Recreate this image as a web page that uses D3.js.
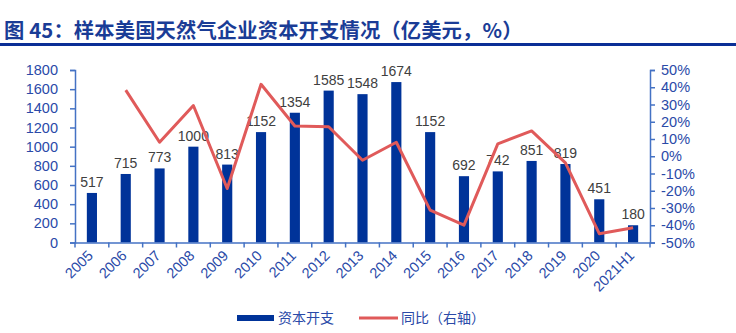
<!DOCTYPE html>
<html><head><meta charset="utf-8">
<script src="https://cdn.jsdelivr.net/npm/d3@7/dist/d3.min.js"></script>
<style>
body{margin:0;background:#fff;}
svg{display:block;}
</style></head>
<body>
<svg id="c" width="736" height="333"></svg>
<script>
const categories = ["2005","2006","2007","2008","2009","2010","2011","2012","2013","2014","2015","2016","2017","2018","2019","2020","2021H1"];
const capex = [517,715,773,1000,813,1152,1354,1585,1548,1674,1152,692,742,851,819,451,180];
const yoy = [null,38.3,8.1,29.4,-18.7,41.7,17.5,17.1,-2.3,8.1,-31.2,-39.9,7.2,14.7,-3.8,-44.9,-41.5];
const leftTicks = [0,200,400,600,800,1000,1200,1400,1600,1800];
const rightTicks = [-50,-40,-30,-20,-10,0,10,20,30,40,50];
const titleText = "图 45：样本美国天然气企业资本开支情况（亿美元，%）";
const legendLabels = ["资本开支","同比（右轴）"];

const svg = d3.select("#c");
const FONT = "'Liberation Sans', Arial, sans-serif";
const axisColor = "#4472c4";
const tickText = "#2a4aa8";
const barColor = "#003399";
const lineColor = "#e05a5a";

// Title
svg.append("text").attr("x",4).attr("y",38)
  .attr("font-family","'Noto Sans CJK SC', sans-serif").attr("font-weight","bold")
  .attr("font-size",20.3).attr("letter-spacing",0.15).attr("fill","#1a3c96").text(titleText);
svg.append("rect").attr("x",0).attr("y",43).attr("width",736).attr("height",3).attr("fill","#0a2f96");

const L = 75, R = 650, T = 70, B = 242.5;
const x = d3.scaleBand().domain(categories).range([L,R]).paddingInner(0).paddingOuter(0);
const yL = d3.scaleLinear().domain([0,1800]).range([B,T]);
const yR = d3.scaleLinear().domain([-50,50]).range([B,T]);

// Bars
const bw = x.bandwidth()*0.3;
svg.append("g").selectAll("rect").data(capex).join("rect")
  .attr("x",(d,i)=>x(categories[i])+x.bandwidth()/2-bw/2)
  .attr("y",d=>yL(d)).attr("width",bw).attr("height",d=>B-yL(d))
  .attr("fill",barColor);

// Bar labels
svg.append("g").selectAll("text").data(capex).join("text")
  .attr("x",(d,i)=>x(categories[i])+x.bandwidth()/2)
  .attr("y",d=>yL(d)-6)
  .attr("text-anchor","middle").attr("font-family",FONT).attr("font-size",14)
  .attr("fill","#404040").text(d=>d);

// Line
const line = d3.line().defined(d=>d!=null)
  .x((d,i)=>x(categories[i])+x.bandwidth()/2).y(d=>yR(d));
svg.append("path").datum(yoy).attr("d",line).attr("fill","none")
  .attr("stroke",lineColor).attr("stroke-width",3).attr("stroke-linejoin","round");

// Left axis
const gl = svg.append("g").attr("transform",`translate(${L},0)`)
  .call(d3.axisLeft(yL).tickValues(leftTicks).tickSize(5).tickPadding(12).tickFormat(d3.format("d")));
// Right axis
const gr = svg.append("g").attr("transform",`translate(${R},0)`)
  .call(d3.axisRight(yR).tickValues(rightTicks).tickSize(5).tickPadding(6).tickFormat(d=>d+"%"));
// Bottom axis
const gb = svg.append("g").attr("transform",`translate(0,${B})`)
  .call(d3.axisBottom(x).tickSize(0).tickPadding(0).tickFormat(""));
gb.selectAll(".bt").data(d3.range(categories.length+1)).join("line")
  .attr("x1",i=>L+i*x.bandwidth()).attr("x2",i=>L+i*x.bandwidth())
  .attr("y1",0).attr("y2",5).attr("stroke",axisColor).attr("stroke-width",1.5);

[gl,gr,gb].forEach(g=>{
  g.select(".domain").attr("stroke",axisColor).attr("stroke-width",1.5);
  g.selectAll(".tick line").attr("stroke",axisColor).attr("stroke-width",1.5);
  g.selectAll(".tick text").attr("font-family",FONT).attr("font-size",14.5).attr("fill",tickText);
});

// X labels rotated
svg.append("g").selectAll("text").data(categories).join("text")
  .attr("transform",d=>`translate(${x(d)+x.bandwidth()/2+2},${B+14}) rotate(-45)`)
  .attr("text-anchor","end").attr("font-family",FONT).attr("font-size",14.5)
  .attr("fill",tickText).text(d=>d);

// Legend
const lg = svg.append("g");
lg.append("rect").attr("x",237).attr("y",315).attr("width",37).attr("height",6).attr("fill",barColor);
lg.append("text").attr("x",278).attr("y",323).attr("font-family","'Noto Sans CJK SC', sans-serif")
  .attr("font-size",14).attr("fill","#2a4aa8").text(legendLabels[0]);
lg.append("line").attr("x1",359).attr("x2",398).attr("y1",318).attr("y2",318)
  .attr("stroke",lineColor).attr("stroke-width",3);
lg.append("text").attr("x",401).attr("y",323).attr("font-family","'Noto Sans CJK SC', sans-serif")
  .attr("font-size",14).attr("fill","#2a4aa8").text(legendLabels[1]);
</script>
</body></html>
